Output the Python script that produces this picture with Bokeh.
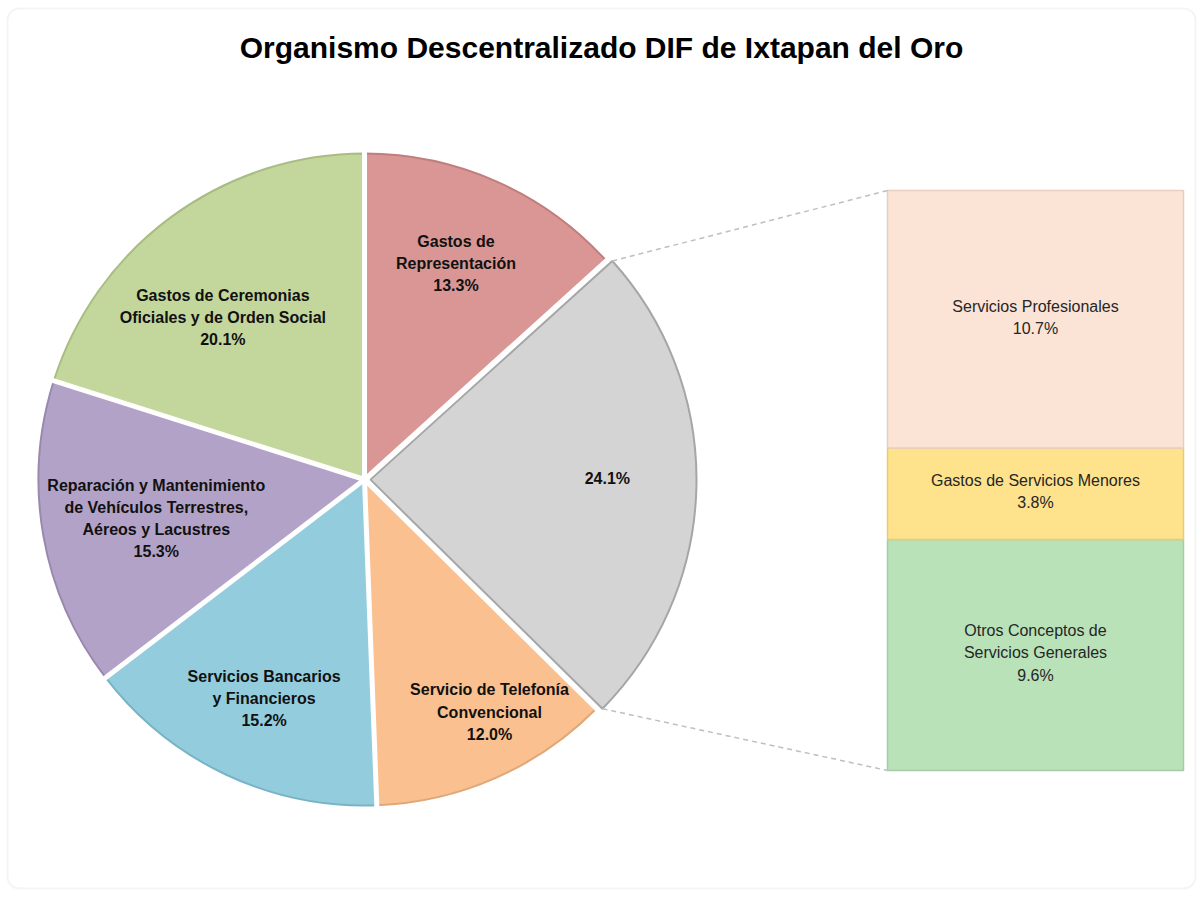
import math
from bokeh.plotting import figure
from bokeh.models import Range1d, BoxAnnotation
from bokeh.core.properties import value
from bokeh.embed import file_html
from bokeh.resources import INLINE

# ---------------- data ----------------
title = "Organismo Descentralizado DIF de Ixtapan del Oro"

pie_names = [
    "Gastos de\nRepresentación",
    "",
    "Servicio de Telefonía\nConvencional",
    "Servicios Bancarios\ny Financieros",
    "Reparación y Mantenimiento\nde Vehículos Terrestres,\nAéreos y Lacustres",
    "Gastos de Ceremonias\nOficiales y de Orden Social",
]
pie_values = [13.3, 24.1, 12.0, 15.2, 15.3, 20.1]

bar_names = [
    "Otros Conceptos de\nServicios Generales",
    "Gastos de Servicios Menores",
    "Servicios Profesionales",
]
bar_values = [9.6, 3.8, 10.7]

# ---------------- styles / layout ----------------
pie_colors = ["#D99694", "#D4D4D4", "#FAC090", "#93CDDD", "#B3A2C7", "#C3D69B"]
pie_edges = ["#C07E7C", "#A6A6A6", "#E0A878", "#78B4C6", "#9A89AE", "#A9BD82"]
bar_colors = ["#B9E2B9", "#FFE28C", "#FBE3D6"]
bar_edges = ["#A8CBA8", "#E8CB78", "#E6CFC2"]
other_index = 1
label_r = [0.72, 0.745, 0.81, 0.74, 0.65, 0.66]
label_dang = [1.0, 1.5, 4.5, 0.6, 0.8, 5.0]

W, H = 1198, 892
cx, cy, R = 364, H - 479, 326
explode = 6
bar_left, bar_right, bar_bottom, bar_top = 887, 1183, H - 770, H - 190
FONT = value("Liberation Sans")

p = figure(width=W, height=H, output_backend="svg", toolbar_location=None,
           x_range=Range1d(0, W), y_range=Range1d(0, H),
           min_border=0, x_axis_location=None, y_axis_location=None)
p.grid.visible = False
p.background_fill_color = "white"
p.border_fill_color = "white"
p.outline_line_color = None

p.add_layout(BoxAnnotation(left=7, right=1195, top=H - 8, bottom=H - 888,
                           fill_alpha=0, line_color="#D9D9D9", line_width=2,
                           border_radius=12))

# title
p.text(x=[601], y=[H - 47], text=[title], text_font=FONT, text_font_style="bold",
       text_font_size="30px", text_align="center", text_baseline="middle", text_color="#000000")

# pie
total = sum(pie_values)
starts, ends, mids = [], [], []
acc = 0.0
for v in pie_values:
    a0 = 90 - acc / total * 360
    acc += v
    a1 = 90 - acc / total * 360
    starts.append(a0)
    ends.append(a1)
    mids.append((a0 + a1) / 2)

for i, v in enumerate(pie_values):
    m = math.radians(mids[i])
    off = explode if i == other_index else 0
    x0 = cx + off * math.cos(m)
    y0 = cy + off * math.sin(m)
    p.wedge(x=[x0], y=[y0], radius=R, start_angle=math.radians(starts[i]),
            end_angle=math.radians(ends[i]), direction="clock",
            fill_color=pie_colors[i], line_color=pie_edges[i], line_width=2)

# white separators between slices
for a in starts:
    ar = math.radians(a)
    p.segment(x0=[cx], y0=[cy], x1=[cx + (R + 8) * math.cos(ar)], y1=[cy + (R + 8) * math.sin(ar)],
              line_color="white", line_width=5)

# pie labels
for i, v in enumerate(pie_values):
    m = math.radians(mids[i] + label_dang[i])
    rr = label_r[i] * R
    txt = (pie_names[i] + "\n" if pie_names[i] else "") + f"{v / total * 100:.1f}%"
    p.text(x=[cx + rr * math.cos(m)], y=[cy + rr * math.sin(m)], text=[txt],
           text_font=FONT, text_font_style="bold", text_font_size="16px",
           text_align="center", text_baseline="middle", text_line_height=1.3,
           text_color="#111111")

# bar of the "other" slice
btotal = sum(bar_values)
scale = (bar_top - bar_bottom) / btotal
b = bar_bottom
for i, v in enumerate(bar_values):
    t = b + v * scale
    p.quad(left=[bar_left], right=[bar_right], bottom=[b], top=[t],
           fill_color=bar_colors[i], line_color=bar_edges[i], line_width=1.5)
    txt = bar_names[i] + "\n" + f"{v / total * 100:.1f}%"
    p.text(x=[(bar_left + bar_right) / 2], y=[(b + t) / 2 + 2], text=[txt],
           text_font=FONT, text_font_size="16px", text_align="center",
           text_baseline="middle", text_line_height=1.3, text_color="#262626")
    b = t

# connector lines
gm = math.radians(mids[other_index])
gx, gy = cx + explode * math.cos(gm), cy + explode * math.sin(gm)
a_top = math.radians(starts[other_index])
a_bot = math.radians(ends[other_index])
p.segment(x0=[gx + R * math.cos(a_top), gx + R * math.cos(a_bot)],
          y0=[gy + R * math.sin(a_top), gy + R * math.sin(a_bot)],
          x1=[bar_left, bar_left], y1=[bar_top, bar_bottom],
          line_color="#BFBFBF", line_width=1.5, line_dash="5 4")

open("out.html", "w").write(file_html(p, INLINE))
